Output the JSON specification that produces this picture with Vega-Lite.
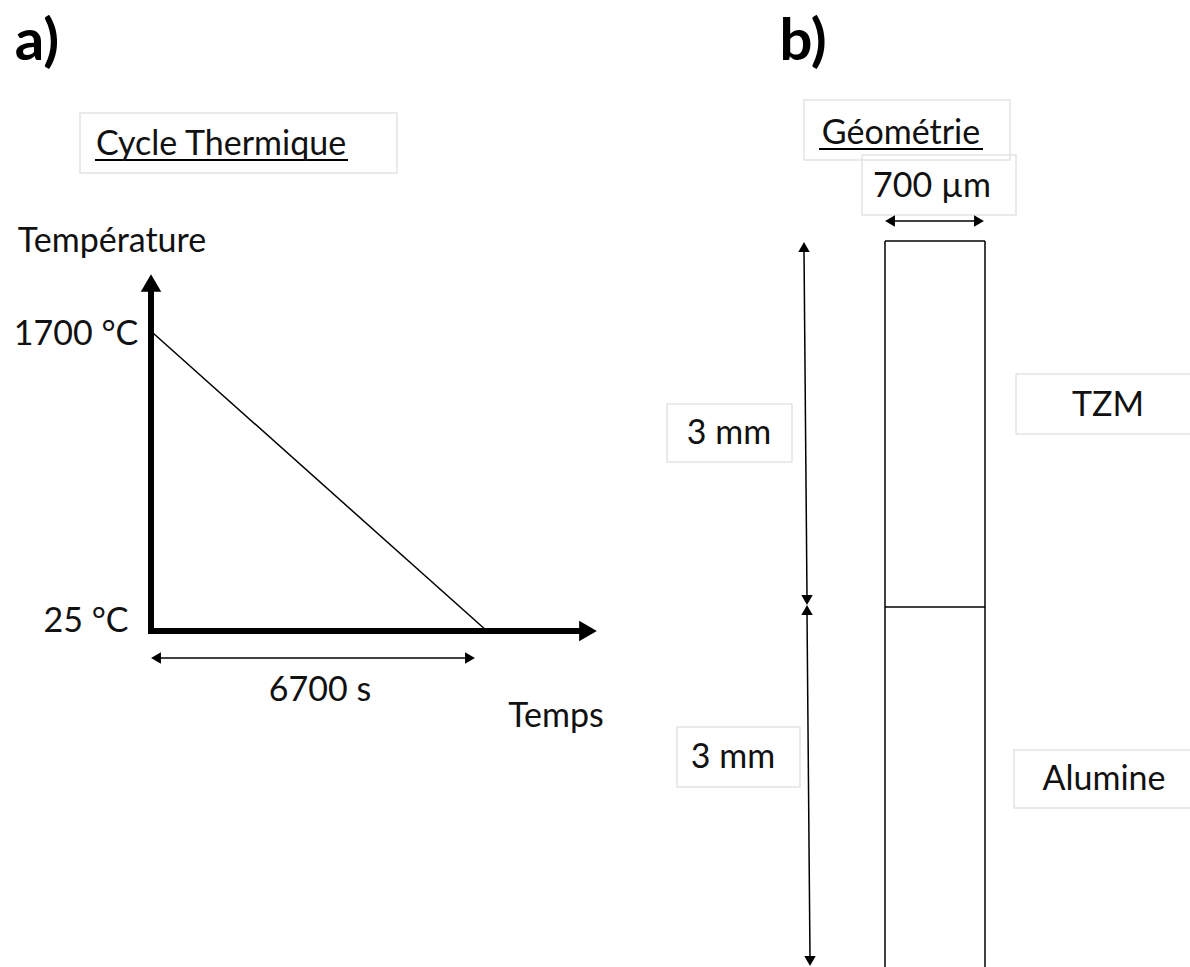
{
  "$schema": "https://vega.github.io/schema/vega-lite/v6.json",
  "width": 1190,
  "height": 967,
  "autosize": {"type": "none"},
  "padding": 0,
  "background": "white",
  "config": {"view": {"stroke": null}},
  "datasets": {
    "boxes": [
      {"x": 80, "x2": 397, "y": 113, "y2": 173},
      {"x": 804, "x2": 1010, "y": 100, "y2": 160},
      {"x": 862, "x2": 1016, "y": 155, "y2": 215},
      {"x": 667, "x2": 792, "y": 404, "y2": 462},
      {"x": 677, "x2": 800, "y": 727, "y2": 787},
      {"x": 1016, "x2": 1196, "y": 374, "y2": 434},
      {"x": 1014, "x2": 1196, "y": 750, "y2": 808}
    ],
    "thick": [
      {"x": 151, "x2": 151, "y": 634, "y2": 290},
      {"x": 148, "x2": 580, "y": 631, "y2": 631}
    ],
    "thin": [
      {"x": 153, "x2": 487, "y": 333, "y2": 631},
      {"x": 885, "x2": 885, "y": 241, "y2": 970},
      {"x": 985, "x2": 985, "y": 241, "y2": 970},
      {"x": 885, "x2": 985, "y": 241, "y2": 241},
      {"x": 885, "x2": 985, "y": 607, "y2": 607},
      {"x": 158, "x2": 468, "y": 658, "y2": 658},
      {"x": 892, "x2": 977, "y": 221, "y2": 221},
      {"x": 804, "x2": 807, "y": 250, "y2": 597},
      {"x": 807, "x2": 810, "y": 613, "y2": 958}
    ],
    "underline": [
      {"x": 95, "x2": 348, "y": 160, "y2": 160},
      {"x": 819, "x2": 983, "y": 149, "y2": 149}
    ],
    "bigheads": [
      {"x": 151, "y": 283, "dir": "up"},
      {"x": 588, "y": 631, "dir": "right"}
    ],
    "smallheads": [
      {"x": 156, "y": 658, "dir": "left"},
      {"x": 470, "y": 658, "dir": "right"},
      {"x": 890, "y": 221, "dir": "left"},
      {"x": 979, "y": 221, "dir": "right"},
      {"x": 804, "y": 247, "dir": "up"},
      {"x": 807, "y": 600, "dir": "down"},
      {"x": 807, "y": 610, "dir": "up"},
      {"x": 810, "y": 961, "dir": "down"}
    ],
    "labels": [
      {"x": 221, "y": 155, "label": "Cycle Thermique"},
      {"x": 112, "y": 252, "label": "Température"},
      {"x": 76, "y": 345, "label": "1700 °C"},
      {"x": 86, "y": 632, "label": "25 °C"},
      {"x": 320, "y": 701, "label": "6700 s"},
      {"x": 556, "y": 727, "label": "Temps"},
      {"x": 901, "y": 144, "label": "Géométrie"},
      {"x": 932, "y": 197, "label": "700 µm"},
      {"x": 729, "y": 444, "label": "3 mm"},
      {"x": 733, "y": 768, "label": "3 mm"},
      {"x": 1108, "y": 416, "label": "TZM"},
      {"x": 1104, "y": 790, "label": "Alumine"}
    ],
    "titles": [
      {"x": 37, "y": 60, "label": "a)"},
      {"x": 803, "y": 60, "label": "b)"}
    ]
  },
  "encoding": {
    "x": {"field": "x", "type": "quantitative", "scale": {"domain": [0, 1190], "nice": false, "zero": false}, "axis": null},
    "y": {"field": "y", "type": "quantitative", "scale": {"domain": [0, 967], "nice": false, "zero": false, "reverse": true}, "axis": null}
  },
  "layer": [
    {
      "data": {"name": "boxes"},
      "mark": {"type": "rect", "fill": null, "fillOpacity": 0, "stroke": "#e3e3e3", "strokeWidth": 1.5},
      "encoding": {"x2": {"field": "x2"}, "y2": {"field": "y2"}}
    },
    {
      "data": {"name": "thin"},
      "mark": {"type": "rule", "color": "black", "strokeWidth": 1.5},
      "encoding": {"x2": {"field": "x2"}, "y2": {"field": "y2"}}
    },
    {
      "data": {"name": "underline"},
      "mark": {"type": "rule", "color": "black", "strokeWidth": 2.2},
      "encoding": {"x2": {"field": "x2"}, "y2": {"field": "y2"}}
    },
    {
      "data": {"name": "thick"},
      "mark": {"type": "rule", "color": "black", "strokeWidth": 6},
      "encoding": {"x2": {"field": "x2"}, "y2": {"field": "y2"}}
    },
    {
      "data": {"name": "bigheads"},
      "mark": {"type": "point", "filled": true, "color": "black", "opacity": 1, "size": 420},
      "encoding": {
        "shape": {"field": "dir", "type": "nominal", "legend": null,
          "scale": {"domain": ["up", "down", "left", "right"], "range": ["triangle-up", "triangle-down", "triangle-left", "triangle-right"]}}
      }
    },
    {
      "data": {"name": "smallheads"},
      "mark": {"type": "point", "filled": true, "color": "black", "opacity": 1, "size": 130},
      "encoding": {
        "shape": {"field": "dir", "type": "nominal", "legend": null,
          "scale": {"domain": ["up", "down", "left", "right"], "range": ["triangle-up", "triangle-down", "triangle-left", "triangle-right"]}}
      }
    },
    {
      "data": {"name": "labels"},
      "mark": {"type": "text", "font": "Lato", "fontSize": 34, "color": "#111111", "align": "center", "baseline": "alphabetic"},
      "encoding": {"text": {"field": "label"}}
    },
    {
      "data": {"name": "titles"},
      "mark": {"type": "text", "font": "Lato", "fontSize": 58, "fontWeight": "bold", "color": "black", "align": "center", "baseline": "alphabetic"},
      "encoding": {"text": {"field": "label"}}
    }
  ]
}
